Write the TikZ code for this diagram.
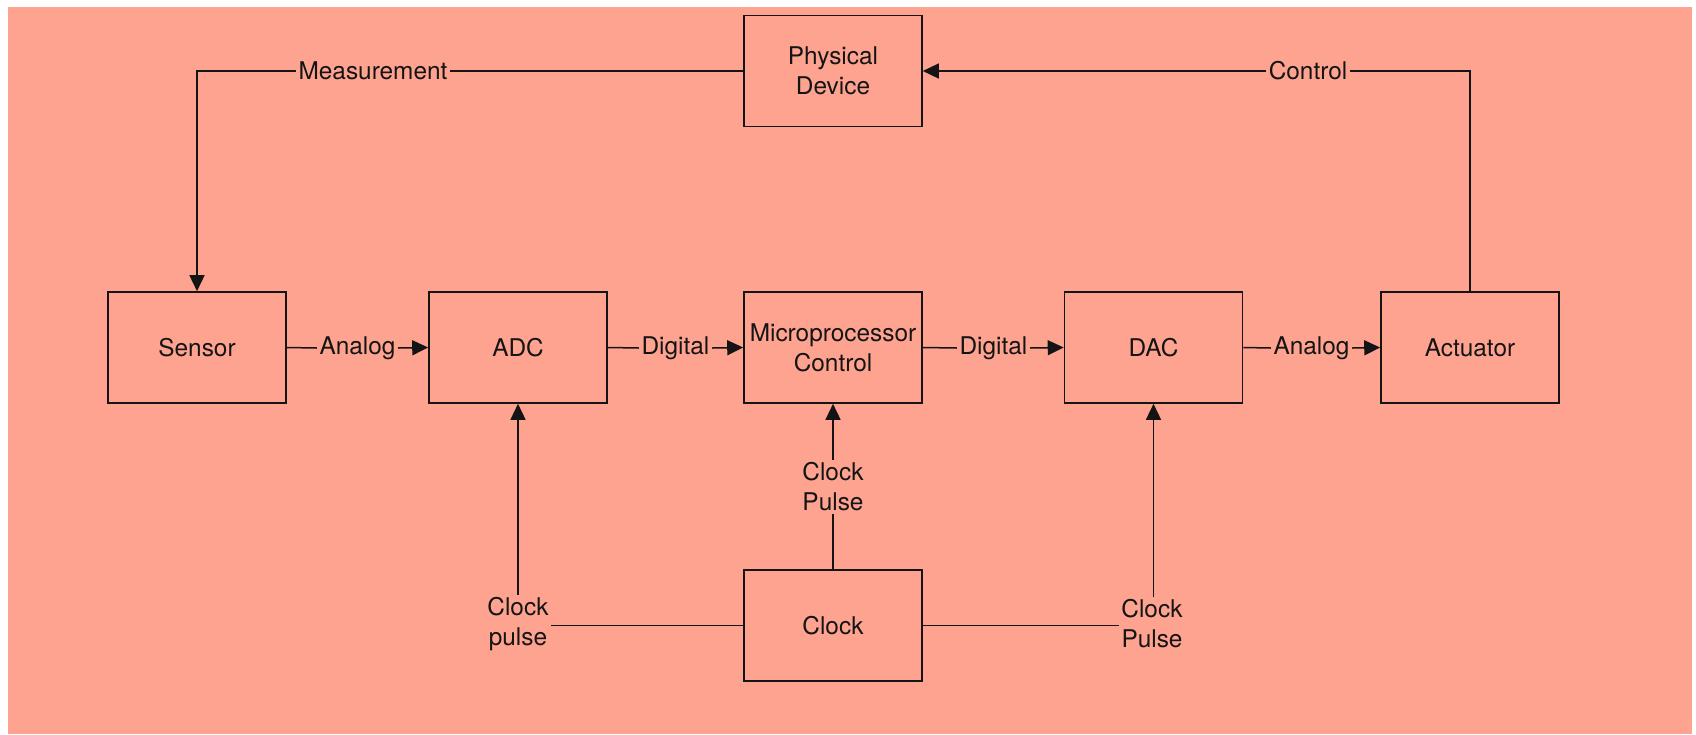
\documentclass[tikz,border=0pt]{standalone}
\usepackage{fontspec}
\setmainfont{TeX Gyre Heros}
\usetikzlibrary{arrows.meta}
\definecolor{bgsalmon}{RGB}{255,163,145}
\definecolor{ink}{RGB}{20,20,20}
\begin{document}
\begin{tikzpicture}[x=1pt,y=-1pt,
  every node/.style={font=\fontsize{24.4}{30}\selectfont, text=ink},
  blockbox/.style={draw=ink, line width=1.6pt, minimum width=178pt, minimum height=111pt, align=center, inner sep=0pt},
  lbl/.style={inner sep=2.5pt, align=center},
  conn/.style={draw=ink, line width=1.5pt},
  arr/.style={conn, -{Triangle[length=16pt,width=15pt]}}
]
\useasboundingbox (0,0) rectangle (1696,734);
\fill[bgsalmon] (8,7) rectangle (1692,734);

\node[blockbox] (phys) at (833,71) {Physical\\Device};
\node[blockbox] (sensor) at (197,347.5) {Sensor};
\node[blockbox] (adc) at (518,347.5) {ADC};
\node[blockbox] (micro) at (833,347.5) {Microprocessor\\Control};
\node[blockbox] (dac) at (1153.5,347.5) {DAC};
\node[blockbox] (act) at (1470,347.5) {Actuator};
\node[blockbox] (clock) at (833,625.5) {Clock};

\node[lbl] (meas) at (373,71) {Measurement};
\node[lbl] (ctrl) at (1308,71) {Control};
\node[lbl] (an1) at (357.5,348) {Analog};
\node[lbl] (dg1) at (675.5,348) {Digital};
\node[lbl] (dg2) at (993.5,348) {Digital};
\node[lbl] (an2) at (1311.5,348) {Analog};
\node[lbl] (cpl) at (518,624) {Clock\\pulse};
\node[lbl] (cpm) at (833,487) {Clock\\Pulse};
\node[lbl] (cpr) at (1152,624) {Clock\\Pulse};

% top loop
\draw[conn] (phys.west) -- (meas.east);
\draw[arr] (meas.west) -| (sensor.north);
\draw[conn] (act.north) |- (ctrl.east);
\draw[arr] (ctrl.west) -- (phys.east);

% main chain
\draw[conn] (sensor.east) -- (an1.west);
\draw[arr] (an1.east) -- (adc.west);
\draw[conn] (adc.east) -- (dg1.west);
\draw[arr] (dg1.east) -- (micro.west);
\draw[conn] (micro.east) -- (dg2.west);
\draw[arr] (dg2.east) -- (dac.west);
\draw[conn] (dac.east) -- (an2.west);
\draw[arr] (an2.east) -- (act.west);

% clock
\draw[conn] (clock.west) -- (cpl.east |- clock.west);
\draw[arr] (cpl.north) -- (adc.south);
\draw[conn] (clock.north) -- (cpm.south);
\draw[arr] (cpm.north) -- (micro.south);
\draw[conn] (clock.east) -- (cpr.west |- clock.east);
\draw[arr] (cpr.north -| dac.south) -- (dac.south);
\end{tikzpicture}
\end{document}
